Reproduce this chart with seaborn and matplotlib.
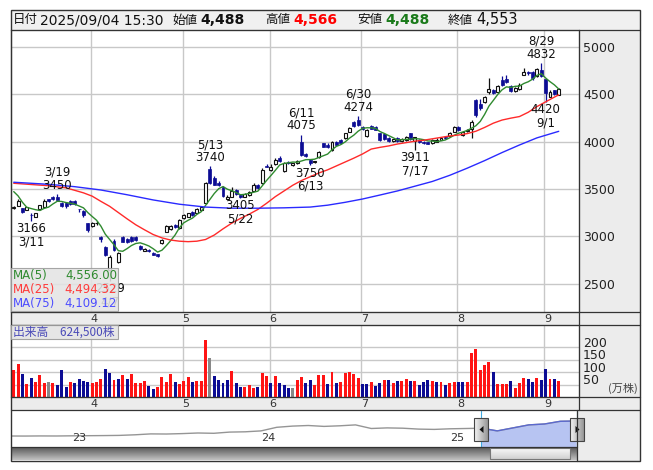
import matplotlib
matplotlib.use("Agg")
import matplotlib.pyplot as plt
import numpy as np
import pandas as pd
import seaborn as sns
from matplotlib.patches import Rectangle, Polygon
import matplotlib.transforms as mtrans

# ---------------- data ----------------
dates = (
    ["03/05", "03/06", "03/07", "03/10", "03/11", "03/12", "03/13", "03/14", "03/17", "03/18",
     "03/19", "03/21", "03/24", "03/25", "03/26", "03/27", "03/28", "03/31"] +
    ["04/01", "04/02", "04/03", "04/04", "04/07", "04/08", "04/09", "04/10", "04/11", "04/14",
     "04/15", "04/16", "04/17", "04/18", "04/21", "04/22", "04/23", "04/24", "04/25", "04/28", "04/30"] +
    ["05/01", "05/02", "05/07", "05/08", "05/09", "05/12", "05/13", "05/14", "05/15", "05/16",
     "05/19", "05/20", "05/21", "05/22", "05/23", "05/26", "05/27", "05/28", "05/29", "05/30"] +
    ["06/02", "06/03", "06/04", "06/05", "06/06", "06/09", "06/10", "06/11", "06/12", "06/13",
     "06/16", "06/17", "06/18", "06/19", "06/20", "06/23", "06/24", "06/25", "06/26", "06/27", "06/30"] +
    ["07/01", "07/02", "07/03", "07/04", "07/07", "07/08", "07/09", "07/10", "07/11", "07/14",
     "07/15", "07/16", "07/17", "07/18", "07/22", "07/23", "07/24", "07/25", "07/28", "07/29", "07/30", "07/31"] +
    ["08/01", "08/04", "08/05", "08/06", "08/07", "08/08", "08/12", "08/13", "08/14", "08/15",
     "08/18", "08/19", "08/20", "08/21", "08/22", "08/25", "08/26", "08/27", "08/28", "08/29"] +
    ["09/01", "09/02", "09/03", "09/04"]
)

opens = [
    3300, 3325, 3297, 3280, 3230, 3209, 3286, 3307, 3392, 3420, 3420, 3357, 3350, 3378, 3378, 3290, 3272, 3138,
    3110, 3140, 2990, 2892, 2646, 2956, 2734, 2991, 2975, 2991, 2990, 2899, 2850, 2860, 2829, 2811, 2927, 3050, 3075, 3120, 3086,
    3191, 3208, 3260, 3250, 3279, 3350, 3708, 3613, 3560, 3525, 3400, 3420, 3490, 3440, 3420, 3440, 3480, 3540, 3560, 3745,
    3700, 3760, 3830, 3690, 3790, 3750, 3770, 3999, 3870, 3807, 3790, 3835, 3982, 3970, 3912, 3995, 4018, 4035, 4106, 4211, 4229,
    4158, 4060, 4165, 4150, 4088, 4080, 4040, 4005, 4040, 4010, 4020, 4088, 4002, 4020, 4000, 3995, 3985, 4000, 4020, 4050, 4060, 4105,
    4151, 4070, 4110, 4130, 4440, 4400, 4422, 4520, 4545, 4520, 4650, 4660, 4590, 4530, 4560, 4703, 4730, 4739, 4690, 4760,
    4658, 4475, 4540, 4488]
highs = [
    3320, 3392, 3300, 3310, 3250, 3250, 3335, 3392, 3400, 3430, 3450, 3365, 3360, 3385, 3385, 3292, 3275, 3140,
    3150, 3160, 3000, 2900, 2800, 2970, 2840, 3000, 2985, 3000, 3005, 2905, 2880, 2870, 2835, 2815, 2970, 3121, 3125, 3130, 3180,
    3235, 3250, 3270, 3300, 3320, 3578, 3740, 3640, 3580, 3530, 3440, 3525, 3500, 3450, 3460, 3480, 3560, 3550, 3720, 3760,
    3760, 3830, 3845, 3790, 3800, 3780, 3810, 4075, 3880, 3820, 3800, 3900, 3990, 3985, 4010, 4005, 4025, 4095, 4150, 4220, 4274,
    4170, 4130, 4175, 4160, 4095, 4090, 4050, 4030, 4050, 4035, 4060, 4095, 4050, 4030, 4010, 4000, 4030, 4040, 4050, 4060, 4100, 4160,
    4160, 4110, 4130, 4230, 4450, 4450, 4480, 4668, 4560, 4600, 4693, 4700, 4600, 4580, 4620, 4774, 4745, 4745, 4780, 4832,
    4660, 4540, 4545, 4566]
lows = [
    3290, 3320, 3244, 3275, 3166, 3200, 3280, 3300, 3365, 3385, 3380, 3310, 3305, 3335, 3330, 3260, 3210, 3050,
    3100, 3120, 2945, 2790, 2529, 2850, 2720, 2940, 2930, 2940, 2955, 2860, 2845, 2840, 2800, 2785, 2920, 3045, 3065, 3085, 3080,
    3185, 3200, 3220, 3245, 3270, 3340, 3550, 3540, 3530, 3420, 3395, 3415, 3440, 3405, 3415, 3430, 3475, 3500, 3550, 3730,
    3690, 3750, 3790, 3684, 3760, 3740, 3765, 3850, 3840, 3750, 3780, 3830, 3940, 3930, 3900, 3960, 3975, 4030, 4100, 4150, 4170,
    4125, 4050, 4130, 4120, 4010, 4020, 4000, 4000, 4000, 4000, 4010, 4020, 3911, 3990, 3980, 3975, 3980, 3995, 4015, 4025, 4055, 4100,
    4115, 4060, 4100, 4035, 4260, 4330, 4410, 4500, 4500, 4510, 4590, 4620, 4520, 4520, 4550, 4700, 4700, 4650, 4680, 4680,
    4420, 4470, 4490, 4488]
closes = [
    3304, 3374, 3262, 3307, 3225, 3244, 3332, 3374, 3374, 3392, 3385, 3320, 3316, 3342, 3340, 3288, 3222, 3065,
    3138, 3142, 2975, 2800, 2787, 2857, 2829, 2945, 2940, 2950, 2965, 2864, 2870, 2848, 2804, 2790, 2963, 3110, 3115, 3095, 3173,
    3226, 3244, 3230, 3290, 3314, 3560, 3560, 3543, 3540, 3430, 3420, 3480, 3450, 3420, 3450, 3470, 3540, 3510, 3700, 3736,
    3730, 3810, 3795, 3780, 3770, 3770, 3800, 3860, 3850, 3775, 3790, 3894, 3947, 3940, 4000, 3970, 3985, 4088, 4141, 4160, 4180,
    4130, 4123, 4137, 4125, 4018, 4030, 4010, 4025, 4010, 4025, 4050, 4025, 4046, 4000, 3985, 3980, 4020, 4015, 4040, 4035, 4095, 4151,
    4123, 4105, 4120, 4211, 4281, 4350, 4475, 4560, 4510, 4590, 4600, 4630, 4530, 4570, 4600, 4739, 4720, 4668, 4770, 4689,
    4510, 4528, 4500, 4553]
# volume in 10,000 shares (万株)
volumes = [
    108.6, 134.5, 93.5, 52.5, 75.9, 59.5, 88, 55.4, 59.5, 55.4, 47, 108.6, 39, 59.5, 55.4, 71.8, 63.5, 60.8,
    56.7, 60.8, 71.8, 112.8, 96.4, 67.6, 71.8, 88, 71.8, 92.3, 55.4, 55.4, 63.5, 43, 30.8, 39, 80, 59.5, 92.3, 59.5, 51.3,
    63.5, 80, 59.5, 63.5, 63.5, 227.6, 157.9, 84, 67.6, 55.4, 67.6, 104.6, 55.4, 39, 39, 47, 35, 39, 96.4, 84,
    55.4, 84, 55.4, 47, 35, 35, 67.6, 80, 55.4, 67.6, 47, 88, 88, 51.3, 100.5, 55.4, 59.5, 96.4, 100.5, 92.3, 75.9,
    52.5, 52.5, 59.5, 43, 55.4, 67.6, 67.6, 55.4, 63.5, 63.5, 71.8, 63.5, 63.5, 47, 59.5, 67.6, 63.5, 59.5, 59.5, 47, 55.4, 59.5,
    59.5, 59.5, 59.5, 175.5, 194.8, 108.6, 129, 141.5, 100.5, 51.3, 51.3, 51.3, 63.5, 35, 55.4, 75.9, 71.8, 59.5, 75.9, 67.6,
    112.8, 71.8, 71.8, 62.45]
# volume bar colour class: u = up day, d = down day, n = unchanged
vol_dir = list(
    "uududuuunuddduddd" "d"          # March (18)
    "uuuddudud" "uuuudduuuudu"       # April (21)
    "uuduuunddddudduuudu" "u"        # May (20)
    "duddd" "nuudduuududuuuuu"       # June (21)
    "dduddududuudu" "ddd" "udud" "uu"  # July (22)
    "dduuuuuuduuuduuuddud"           # August (20)
    "dudu")                          # September (4)
prior_closes = [3600, 3600, 3571, 3290]   # closes before the first visible day (for MA5)

ma25_dates = ["03/05", "03/11", "03/17", "03/24", "03/28", "04/01", "04/03", "04/07", "04/09", "04/11",
              "04/15", "04/17", "04/21", "04/23", "04/25", "04/30", "05/02", "05/08", "05/12", "05/14",
              "05/16", "05/20", "05/22", "05/26", "05/28", "05/30", "06/03", "06/05", "06/09", "06/11",
              "06/13", "06/17", "06/19", "06/23", "06/25", "06/27", "07/01", "07/03", "07/07", "07/09",
              "07/11", "07/15", "07/17", "07/22", "07/24", "07/28", "07/30", "08/01", "08/05", "08/07",
              "08/12", "08/14", "08/18", "08/20", "08/22", "08/26", "08/28", "09/01", "09/03", "09/04"]
ma25_vals = [3561, 3548, 3535, 3513, 3460, 3425, 3370, 3318, 3252, 3186,
             3123, 3070, 3020, 2985, 2962, 2950, 2945, 2950, 2968, 3015,
             3080, 3140, 3190, 3235, 3285, 3350, 3420, 3480, 3540, 3590,
             3630, 3670, 3703, 3744, 3785, 3826, 3870, 3922, 3940, 3955,
             3975, 3990, 4005, 4015, 4030, 4045, 4060, 4070, 4085, 4110,
             4150, 4195, 4228, 4248, 4265, 4310, 4370, 4420, 4470, 4494]
ma75_dates = ["03/05", "03/17", "03/26", "04/03", "04/11", "04/21", "04/30", "05/12", "05/20", "05/28",
              "06/05", "06/13", "06/19", "06/25", "07/01", "07/07", "07/11", "07/17", "07/24", "07/30",
              "08/05", "08/12", "08/18", "08/22", "08/28", "09/04"]
ma75_vals = [3572, 3550, 3525, 3490, 3440, 3385, 3340, 3310, 3298, 3298,
             3302, 3310, 3330, 3360, 3395, 3437, 3480, 3530, 3580, 3645,
             3720, 3800, 3885, 3965, 4040, 4109]

extremes = [("03/19", 3450, "high"), ("03/11", 3166, "low"), ("04/07", 2529, "low"),
            ("05/13", 3740, "high"), ("05/22", 3405, "low"), ("06/11", 4075, "high"),
            ("06/13", 3750, "low"), ("06/30", 4274, "high"), ("07/17", 3911, "low"),
            ("08/29", 4832, "high"), ("09/01", 4420, "low")]

price_ticks = [2500, 3000, 3500, 4000, 4500, 5000]
vol_ticks = [50, 100, 150, 200]
month_labels = ["4", "5", "6", "7", "8", "9"]

# navigator: monthly closes Sep-2022 .. Sep-2025 (month offset from Jan-2023)
nav_m = list(range(-4, 33))
nav_vals = [2050, 2040, 2060, 2050, 2080, 2100, 2120, 2150, 2250, 2400, 2380, 2450, 2550, 2500,
            2700, 2750, 2900, 3500, 3700, 3800, 3650, 3750, 3900, 3300, 3400, 3350, 3200, 3150,
            3250, 3300, 3350, 2900, 3400, 3900, 4050, 4500, 4550]
nav_years = ["23", "24", "25"]

legend_rows = [("MA(5)", "4,556.00"), ("MA(25)", "4,494.32"), ("MA(75)", "4,109.12")]
header_items = [("日付", 13, "cjk"), ("2025/09/04 15:30", 40, "num"), ("始値", 172, "cjk"),
                ("4,488", 200, "bold"), ("高値", 265, "cjk"), ("4,566", 293, "bold"),
                ("安値", 357, "cjk"), ("4,488", 385, "bold"), ("終値", 448, "cjk"), ("4,553", 476, "val")]
volume_label = "出来高　624,500株"

# ---------------- styling ----------------
sns.set_theme(style="white")
plt.rcParams['font.family'] = ['DejaVu Sans', 'Noto Sans CJK JP']
CJK = ['Noto Sans CJK JP', 'DejaVu Sans']
NAVY = "#0c0c94"
RED = "#ff1414"
GRID = "#c8c8c8"
PANEL = "#ececec"
C_MA5, C_MA25, C_MA75 = "#2f8a2f", "#ff2a2a", "#2a2aff"

W, H = 653, 470
fig = plt.figure(figsize=(W / 100, H / 100), dpi=100)
fig.patch.set_facecolor("white")


def px_ax(x0, y0, x1, y1, z):
    return fig.add_axes([x0 / W, 1 - y1 / H, (x1 - x0) / W, (y1 - y0) / H], zorder=z)


n = len(dates)
idx = np.arange(n)
PX0, STEP = 13.72, 4.36
XLIM = ((11 - PX0) / STEP, (579 - PX0) / STEP)
month_starts = [i for i in range(1, n) if dates[i][:2] != dates[i - 1][:2]]

# background panels
bg = px_ax(0, 0, W, H, 0)
bg.set_xlim(0, W); bg.set_ylim(H, 0); bg.axis("off")
for (x0, y0, x1, y1, fc) in [(11, 10, 640, 30, "#f0f0f0"), (579, 30, 640, 312, PANEL),
                             (11, 312, 640, 325, PANEL), (579, 325, 640, 397, PANEL),
                             (11, 397, 640, 410, PANEL), (577, 410, 640, 461, PANEL)]:
    bg.add_patch(Rectangle((x0, y0), x1 - x0, y1 - y0, fc=fc, ec="none"))

# ---------------- main price chart ----------------
ax = px_ax(11, 30, 579, 312, 2)
ax.set_facecolor("white")
ax.set_xlim(*XLIM)
ax.set_ylim(2203, 5178)
ax.set_yticks(price_ticks)
ax.set_xticks([m - 0.28 for m in month_starts])
ax.grid(True, color=GRID, lw=1)
ax.tick_params(axis="x", length=0, labelbottom=False)
ax.tick_params(axis="y", length=0, labelleft=False, labelright=True, pad=3,
               labelsize=9, labelcolor="#222")
for s in ax.spines.values():
    s.set_color("#333"); s.set_linewidth(0.8)

o = np.array(opens, float); c = np.array(closes, float)
hi = np.array(highs, float); lo = np.array(lows, float)
up = c >= o
wick_col = np.where(up, "#111111", NAVY)
ax.vlines(idx, lo, hi, colors=wick_col, lw=0.9, zorder=3)
body_h = np.maximum(np.abs(c - o), 6)
body_b = np.minimum(o, c)
ax.bar(idx[up], body_h[up], bottom=body_b[up], width=0.68, color="white",
       edgecolor="#111111", linewidth=0.8, zorder=4)
ax.bar(idx[~up], body_h[~up], bottom=body_b[~up], width=0.68, color=NAVY,
       edgecolor=NAVY, linewidth=0.5, zorder=4)

all_c = pd.Series(prior_closes + closes, dtype=float)
ma5 = all_c.rolling(5).mean().to_numpy()[len(prior_closes):]
sns.lineplot(x=idx, y=ma5, ax=ax, color=C_MA5, lw=1.0, zorder=5)
sns.lineplot(x=[dates.index(d) for d in ma25_dates], y=ma25_vals, ax=ax, color=C_MA25, lw=1.0, zorder=5)
sns.lineplot(x=[dates.index(d) for d in ma75_dates], y=ma75_vals, ax=ax, color=C_MA75, lw=1.0, zorder=5)
ax.set_xlabel(""); ax.set_ylabel("")
ax.set_xlim(*XLIM); ax.set_ylim(2203, 5178)

for d, v, kind in extremes:
    mm, dd = d.split("/")
    lab = f"{int(mm)}/{int(dd)}"
    i = dates.index(d)
    if kind == "high":
        ax.annotate(f"{lab}\n{v}", xy=(i, v), xytext=(0, 1.5), textcoords="offset points",
                    ha="center", va="bottom", fontsize=8.5, linespacing=1.0, color="#111", zorder=6)
    else:
        ax.annotate(f"{v}\n{lab}", xy=(i, v), xytext=(0, -1), textcoords="offset points",
                    ha="center", va="top", fontsize=8.5, linespacing=1.0, color="#111", zorder=6)

# ---------------- volume chart ----------------
vx = px_ax(11, 325, 579, 397, 2)
vx.set_facecolor("white")
dir_colors = {"u": RED, "d": NAVY, "n": "#888888"}
vcol = [dir_colors[k] for k in vol_dir]
vx.bar(idx, volumes, width=0.68, color=vcol, linewidth=0, zorder=3)
vx.set_xlim(*XLIM)
vx.set_ylim(0, 290)
vx.set_yticks(vol_ticks)
vx.set_xticks([m - 0.28 for m in month_starts])
vx.grid(True, color=GRID, lw=1)
vx.tick_params(axis="both", length=0, labelbottom=False, labelleft=False)
for s in vx.spines.values():
    s.set_color("#333"); s.set_linewidth(0.8)
ytr = vx.get_yaxis_transform()
for t in vol_ticks:
    vx.annotate(str(t), xy=(1.0, t), xycoords=ytr, xytext=(3, 3), textcoords="offset points",
                ha="left", va="center", fontsize=9, color="#222", annotation_clip=False)
vx.annotate("(万株)", xy=(1.0, 0), xycoords=ytr, xytext=(21, 6), textcoords="offset points",
            ha="left", va="center", fontsize=8, color="#444", family=CJK, annotation_clip=False)

# month strips
for (y0, y1) in [(312, 325), (397, 410)]:
    sx = px_ax(11, y0, 579, y1, 3)
    sx.set_xlim(*XLIM); sx.set_ylim(0, 1); sx.axis("off")
    for m, lab in zip(month_starts, month_labels):
        sx.text(m + 0.5, 0.45, lab, ha="center", va="center", fontsize=8, color="#333")

# ---------------- navigator ----------------
nx = px_ax(11, 411, 577, 447, 2)
nx.set_facecolor("white")
nx.set_xlim(-3.87, 32.06)
nx.set_ylim(216, 6217)
nav_x = np.array(nav_m, float); nav_y = np.array(nav_vals, float)
sns.lineplot(x=nav_x, y=nav_y, ax=nx, color="#959595", lw=1.0)
sel = nav_x >= 26
nx.fill_between(nav_x[sel], nav_y[sel], 216, color="#b7c4f2", lw=0)
sns.lineplot(x=nav_x[sel], y=nav_y[sel], ax=nx, color="#5b69cf", lw=1.0)
nx.set_xlabel(""); nx.set_ylabel("")
nx.set_xticks([]); nx.set_yticks([])
for s in nx.spines.values():
    s.set_visible(False)
for k, yl in enumerate(nav_years):
    nx.text(12 * k, 0.25, yl, transform=mtrans.blended_transform_factory(nx.transData, nx.transAxes),
            ha="left", va="center", fontsize=8, color="#333")

# ---------------- overlay (frames, legend, header, handles) ----------------
top = px_ax(0, 0, W, H, 10)
top.set_xlim(0, W); top.set_ylim(H, 0); top.axis("off")

# scrollbar
grad = np.linspace(0.35, 0.75, 20).reshape(-1, 1)
top.imshow(grad, extent=(11, 577, 460, 447), aspect="auto", cmap="gray", vmin=0, vmax=1, zorder=1)
grad2 = np.linspace(0.97, 0.82, 20).reshape(-1, 1)
top.imshow(grad2, extent=(490, 570, 459, 448), aspect="auto", cmap="gray", vmin=0, vmax=1, zorder=2)
top.add_patch(Rectangle((490, 448), 80, 11, fc="none", ec="#777", lw=0.8, zorder=3))

# navigator handles
for hx, pts in [(474, [(483.5, 426), (483.5, 433), (479.5, 429.5)]),
                (570, [(575.5, 426), (575.5, 433), (579.5, 429.5)])]:
    top.plot([hx + 7, hx + 7], [411, 447], color="#3fa9e0", lw=0.8, zorder=2)
    g = np.linspace(0.95, 0.6, 14).reshape(1, -1)
    top.imshow(g, extent=(hx, hx + 14, 441, 418), aspect="auto", cmap="gray", vmin=0, vmax=1, zorder=4)
    top.add_patch(Rectangle((hx, 418), 14, 23, fc="none", ec="#444", lw=0.8, zorder=5))
    top.add_patch(Polygon(pts, closed=True, fc="#111", ec="none", zorder=6))

# frame lines
lc = "#333"
top.add_patch(Rectangle((11, 10), 629, 451, fc="none", ec=lc, lw=1.0, zorder=7))
for y in [30, 312, 325, 397, 410, 447]:
    x1 = 640 if y != 447 else 577
    top.plot([11, x1], [y, y], color=lc, lw=0.9, zorder=7)
top.plot([579, 579], [30, 410], color=lc, lw=0.9, zorder=7)
top.plot([577, 577], [410, 461], color=lc, lw=0.9, zorder=7)

# MA legend box (semi-opaque: the 4/7 low label shows faintly underneath, as in the source)
top.add_patch(Rectangle((11, 268), 107, 43, fc="#e4e4e4", ec="#9a9a9a", lw=0.8, alpha=0.88, zorder=8))
for (name, val), col, yy in zip(legend_rows, [C_MA5, "#ff3b3b", "#4d4dff"], [276, 290, 303]):
    top.text(13, yy, name, ha="left", va="center", fontsize=8.5, color=col, zorder=9)
    top.text(117, yy, val, ha="right", va="center", fontsize=8.5, color=col, zorder=9)

# volume label box
top.add_patch(Rectangle((11, 325), 107, 14, fc="#e4e4e4", ec="#9a9a9a", lw=0.8, alpha=0.9, zorder=8))
top.text(13, 332, volume_label, ha="left", va="center", fontsize=8.5, color="#4a4ab8",
         family=CJK, zorder=9)

# header
hdr_colors = {3: "#111", 5: "#ff0000", 7: "#1a7a1a", 9: "#111"}
for k, (s, x, kind) in enumerate(header_items):
    if kind == "cjk":
        top.text(x, 20, s, ha="left", va="center", fontsize=9, family=CJK, color="#111", zorder=9)
    elif kind == "num":
        top.text(x, 20, s, ha="left", va="center", fontsize=10, color="#111", zorder=9)
    elif kind == "bold":
        top.text(x, 20, s, ha="left", va="center", fontsize=10, fontweight="bold",
                 color=hdr_colors[k], zorder=9)
    else:
        top.text(x, 20, s, ha="left", va="center", fontsize=10.5, color="#111", zorder=9)

fig.savefig("out.png", dpi=100)
